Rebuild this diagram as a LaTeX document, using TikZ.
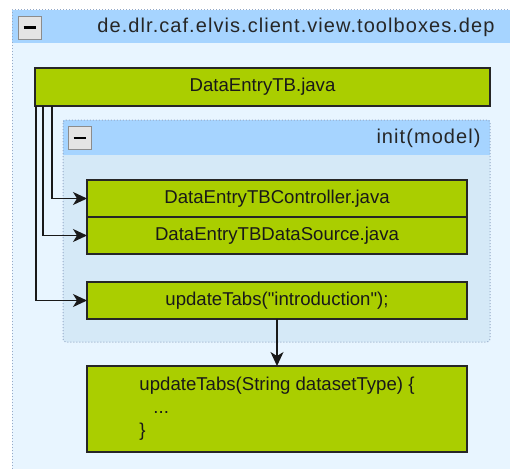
\documentclass[tikz,border=0pt]{standalone}
\usepackage{fontspec}
\setmainfont{Liberation Sans}[Ligatures=TeXOff]
\newfontfamily\headfont[LetterSpace=5.3]{Liberation Sans}
\usepackage{xcolor}
\usetikzlibrary{arrows.meta,positioning}

\definecolor{outerbody}{HTML}{E8F5FF}
\definecolor{innerbody}{HTML}{D5E9F7}
\definecolor{headblue}{HTML}{A6D4FF}
\definecolor{grpborder}{HTML}{96AAC8}
\definecolor{javagreen}{HTML}{AACE00}
\definecolor{btngray}{HTML}{E4E4E4}

\tikzset{
  javabox/.style={draw=black!85, fill=javagreen, line width=1.1pt, outer sep=0pt,
    font=\fontsize{18.6}{23}\selectfont, text=black!90},
  grouphead/.style={fill=headblue, draw=none, outer sep=0pt},
  grouptitle/.style={font=\headfont\fontsize{20}{24}\selectfont, text=black!85, anchor=east},
  minusbtn/.style={draw=black!45, fill=btngray, line width=0.9pt, minimum size=23pt,
    inner sep=0pt, outer sep=0pt},
  conn/.style={draw=black!90, line width=1.1pt, -{Stealth[length=14pt,width=13pt,inset=4pt]}}
}

\begin{document}
\begin{tikzpicture}[x=1pt,y=-1pt]
    \useasboundingbox (0,0) rectangle (510,468);
    \clip (0,0) rectangle (510,468);
    \fill[white] (0,0) rectangle (510,468);

    % Outer package group
    \fill[outerbody] (12,10) rectangle (530,490);
    \node[grouphead, minimum width=518pt, minimum height=33pt, anchor=north west] (pkghead) at (12,10) {};
    \draw[grpborder, line width=1pt, dotted] (12,490) -- (12,10) -- (530,10);
    \node[minusbtn] (pkgbtn) at (29.5,27.5) {};
    \draw[line width=2.6pt] ([xshift=-6pt]pkgbtn.center) -- ([xshift=6pt]pkgbtn.center);
    \node[grouptitle] (pkgtitle) at (498,27.5) {de.dlr.caf.elvis.client.view.toolboxes.dep};

    % Outer file box
    \node[javabox, minimum width=455pt, minimum height=38pt] (tb) at (262.5,87) {DataEntryTB.java};

    % Inner method group
    \fill[innerbody, rounded corners=3pt] (63,120) rectangle (490,342);
    \node[grouphead, minimum width=427pt, minimum height=35pt, anchor=north west] (inithead) at (63,120) {};
    \draw[grpborder, line width=1pt, dotted, rounded corners=3pt] (63,120) rectangle (490,342);
    \node[minusbtn, minimum size=23pt] (initbtn) at (79.5,138) {};
    \draw[line width=2.6pt] ([xshift=-6pt]initbtn.center) -- ([xshift=6pt]initbtn.center);
    \node[grouptitle] (inittitle) at (484,138) {init(model)};

    % Boxes
    \node[javabox, minimum width=380pt, minimum height=37pt] (ctrl) at (277,198.5) {DataEntryTBController.java};
    \node[javabox, minimum width=380pt, minimum height=37pt] (src) at (277,235.5) {DataEntryTBDataSource.java};
    \node[javabox, minimum width=380pt, minimum height=37pt] (call) at (277,300.5) {updateTabs("introduction");};
    \node[javabox, minimum width=380pt, minimum height=86pt, align=left] (body) at (277,409)
        {updateTabs(String datasetType) \{\\\hspace*{14pt}...\\\}};

    % Connectors
    \draw[conn] ([xshift=17pt]tb.south west) |- (ctrl.west);
    \draw[conn] ([xshift=8pt]tb.south west) |- (src.west);
    \draw[conn] ([xshift=1pt]tb.south west) |- (call.west);
    \draw[conn] (call.south) -- (body.north);
\end{tikzpicture}
\end{document}
